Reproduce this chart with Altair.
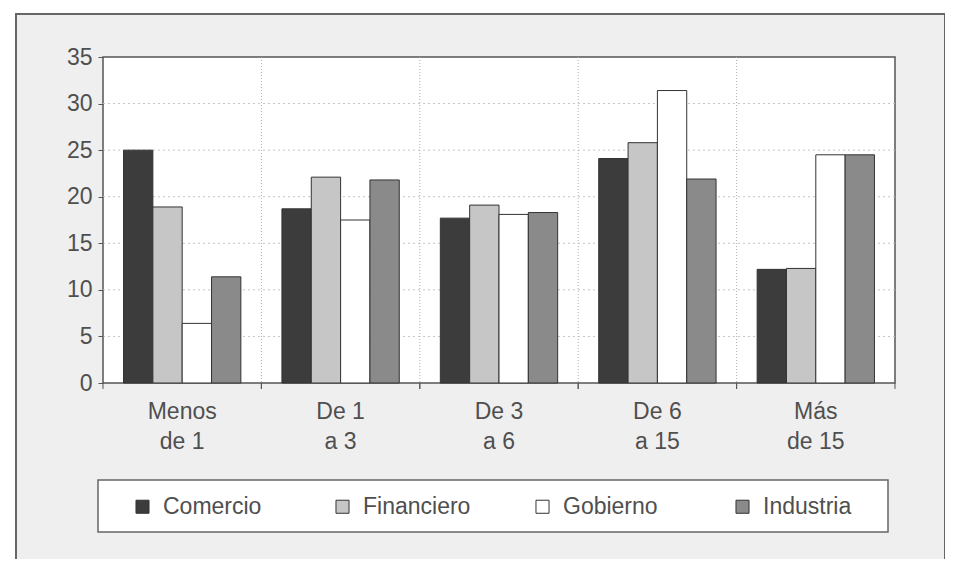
import altair as alt
import pandas as pd

# ---- data ----
categories = ["Menos|de 1", "De 1|a 3", "De 3|a 6", "De 6|a 15", "Más|de 15"]
sectors = ["Comercio", "Financiero", "Gobierno", "Industria"]
comercio = [25.0, 18.7, 17.7, 24.1, 12.2]
financiero = [18.9, 22.1, 19.1, 25.8, 12.3]
gobierno = [6.4, 17.5, 18.1, 31.4, 24.5]
industria = [11.4, 21.8, 18.3, 21.9, 24.5]
y_ticks = [0, 5, 10, 15, 20, 25, 30, 35]

series = dict(zip(sectors, [comercio, financiero, gobierno, industria]))
rows = []
for s, vals in series.items():
    for c, v in zip(categories, vals):
        rows.append({"grupo": c, "sector": s, "valor": v})
df = pd.DataFrame(rows)

W, H = 792, 326
FONT = "Liberation Sans"
TXT = "#4f4f4f"
colors = ["#3c3c3c", "#c6c6c6", "#ffffff", "#8a8a8a"]

x_scale = alt.Scale(domain=categories, paddingInner=0, paddingOuter=0)
y_scale = alt.Scale(domain=[0, 35], nice=False, zero=True)

x_axis = alt.Axis(title=None, domain=False, ticks=False, grid=False,
                  labelExpr="split(datum.label, '|')", labelAngle=0,
                  labelFont=FONT, labelFontSize=23, labelColor=TXT,
                  labelPadding=17, labelLineHeight=30, zindex=2)
y_axis = alt.Axis(title=None, domain=False, grid=False, values=y_ticks,
                  tickSize=5, tickColor="#555", labelFont=FONT,
                  labelFontSize=23, labelColor=TXT, labelPadding=6, zindex=2)


def X(field, band_pos=None):
    kw = dict(type="nominal", sort=categories, scale=x_scale, axis=x_axis, title=None)
    if band_pos is not None:
        kw["bandPosition"] = band_pos
    return alt.X(field, **kw)


one = alt.Data(values=[{"a": 1}])

frame = alt.Chart(one).mark_rect(fill="#efefef", stroke="#666", strokeWidth=2).encode(
    x=alt.value(-87), x2=alt.value(842), y=alt.value(-43), y2=alt.value(520)
)
plot_bg = alt.Chart(one).mark_rect(fill="#ffffff", stroke="#555", strokeWidth=1.5).encode(
    x=alt.value(0), x2=alt.value("width"), y=alt.value(0), y2=alt.value("height")
)
legend_box = alt.Chart(one).mark_rect(fill="#ffffff", stroke="#666", strokeWidth=1.5).encode(
    x=alt.value(-5), x2=alt.value(785), y=alt.value(423), y2=alt.value(475)
)

hgrid_df = pd.DataFrame({"v": y_ticks[1:-1]})
hgrid = alt.Chart(hgrid_df).mark_rule(color="#c4c4c4", strokeDash=[2, 3], strokeWidth=1).encode(
    y=alt.Y("v:Q", scale=y_scale, axis=y_axis, title=None),
    x=alt.value(0), x2=alt.value("width"),
)

cat_df = pd.DataFrame({"grupo": categories})
vgrid = alt.Chart(pd.DataFrame({"grupo": categories[1:]})).mark_rule(
    color="#b0b0b0", strokeDash=[1, 2], strokeWidth=1
).encode(x=X("grupo", 0), y=alt.value(0), y2=alt.value("height"))

ticks0 = alt.Chart(cat_df).mark_rule(color="#555", strokeWidth=1).encode(
    x=X("grupo", 0), y=alt.value(H), y2=alt.value(H + 6))
ticks1 = alt.Chart(cat_df).mark_rule(color="#555", strokeWidth=1).encode(
    x=X("grupo", 1), y=alt.value(H), y2=alt.value(H + 6))

bars = alt.Chart(df).mark_bar(stroke="#333", strokeWidth=1).encode(
    x=X("grupo"),
    xOffset=alt.XOffset("sector:N", sort=sectors,
                        scale=alt.Scale(domain=sectors, paddingInner=0, paddingOuter=0.7)),
    y=alt.Y("valor:Q", scale=y_scale, axis=y_axis, title=None),
    fill=alt.Fill("sector:N", sort=sectors,
                  scale=alt.Scale(domain=sectors, range=colors),
                  legend=alt.Legend(title=None, orient="none", legendX=28, legendY=438,
                                    direction="horizontal", columns=4, gridAlign="all",
                                    columnPadding=60, symbolType="square", symbolSize=170,
                                    symbolStrokeColor="#333", symbolStrokeWidth=1,
                                    labelFont=FONT, labelFontSize=23, labelColor=TXT,
                                    labelOffset=9, padding=0, zindex=2)),
)

chart = alt.layer(frame, plot_bg, legend_box, hgrid, vgrid, ticks0, ticks1, bars).properties(
    width=W, height=H,
    padding={"left": 95, "top": 49, "right": 50, "bottom": 176},
    autosize=alt.AutoSizeParams(type="none"),
    background="#ffffff",
).configure_view(stroke=None)

chart.save("out.html", embed_options={"renderer": "svg", "actions": False})
